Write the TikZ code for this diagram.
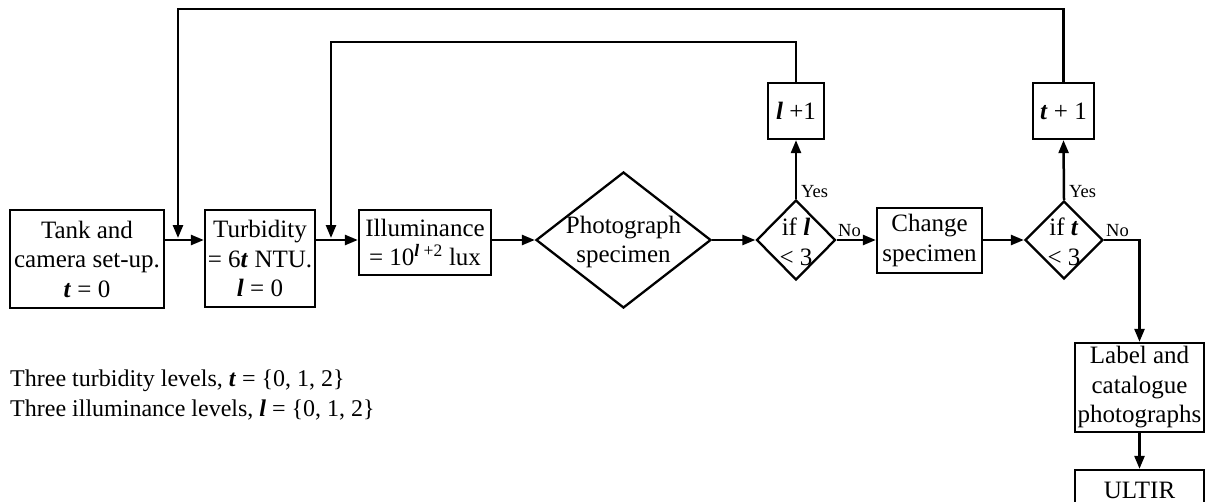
\documentclass[tikz,border=0pt]{standalone}
\usepackage{fontspec}
\setmainfont{Liberation Serif}
\usetikzlibrary{shapes.geometric,arrows.meta}
\newcommand{\bi}[1]{\textbf{\textit{#1}}}
\begin{document}
\begin{tikzpicture}[x=1pt,y=-1pt,
  font=\fontsize{25}{29.5}\selectfont,
  box/.style={draw,line width=2.3pt,inner sep=0pt,align=center},
  dia/.style={draw,diamond,line width=2.3pt,inner sep=0pt},
  txt/.style={align=center,inner sep=0pt},
  arr/.style={line width=2.5pt,-{Triangle[length=13pt,width=10pt]}},
  lbl/.style={font=\fontsize{18.5}{22}\selectfont,inner sep=0pt,anchor=west}]
\useasboundingbox (0,0) rectangle (1205,501);
\clip (0,0) rectangle (1205,501);

\node[box,minimum width=154pt,minimum height=98pt] (tank) at (87,259) {Tank and\\camera set-up.\\\bi{t} = 0};
\node[box,minimum width=110pt,minimum height=97pt] (turb) at (260,258.5) {Turbidity\\= 6\bi{t} NTU.\\\bi{l} = 0};
\node[box,minimum width=132pt,minimum height=65pt] (illum) at (425,242.5) {Illuminance\\= 10\textsuperscript{\bi{l} +2} lux};
\node[dia,minimum width=175pt,minimum height=136pt] (photo) at (623.5,240) {};
\node[txt] (photot) at (623.5,242) {Photograph\\specimen};
\node[dia,minimum width=79pt,minimum height=80pt] (ifl) at (796,240) {};
\node[txt] (iflt) at (796,242) {if \bi{l}\\< 3};
\node[box,minimum width=56pt,minimum height=56pt] (lplus) at (796,111) {\bi{l} +1};
\node[box,minimum width=105pt,minimum height=65pt] (change) at (929.5,240.5) {Change\\specimen};
\node[dia,minimum width=78pt,minimum height=78pt] (ift) at (1064,240) {};
\node[txt] (iftt) at (1064,242) {if \bi{t}\\< 3};
\node[box,minimum width=61pt,minimum height=56pt] (tplus) at (1063.5,111) {\bi{t} + 1};
\node[box,minimum width=129pt,minimum height=89pt] (label) at (1139.5,387.5) {Label and\\catalogue\\photographs};
\node[box,minimum width=129pt,minimum height=40pt] (ultir) at (1139.5,490) {ULTIR};

\node[anchor=base west,inner sep=0pt,font=\fontsize{24}{29}\selectfont] (leg1) at (10,386) {Three turbidity levels, \bi{t} = \{0, 1, 2\}};
\node[anchor=base west,inner sep=0pt,font=\fontsize{24}{29}\selectfont] (leg2) at (10,416) {Three illuminance levels, \bi{l} = \{0, 1, 2\}};

\coordinate (j1) at (331,240);
\coordinate (j2) at (178,240);

\draw[arr] (tank.east |- photo) -- (turb.west |- photo);
\draw[arr] (turb.east |- photo) -- (illum.west |- photo);
\draw[arr] (illum.east |- photo) -- (photo.west);
\draw[arr] (photo.east) -- (ifl.west);
\draw[arr] (ifl.east) -- (change.west |- ifl);
\draw[arr] (change.east |- ifl) -- (ift.west);
\draw[arr] (ifl.north) -- (lplus.south);
\draw[arr] (ift.north) -- (tplus.south);
\draw[arr] (ift.east) -| (label.north);
\draw[arr] (label.south) -- (ultir.north);
\draw[arr,shorten >=2pt] (lplus.north) -- ++(0,-40) -| (j1);
\draw[arr,shorten >=2pt] (tplus.north) -- ++(0,-73) -| (j2);

\node[lbl] (y1) at (801,192) {Yes};
\node[lbl] (n1) at (838,231) {No};
\node[lbl] (y2) at (1069,192) {Yes};
\node[lbl] (n2) at (1106,231) {No};
\end{tikzpicture}
\end{document}
